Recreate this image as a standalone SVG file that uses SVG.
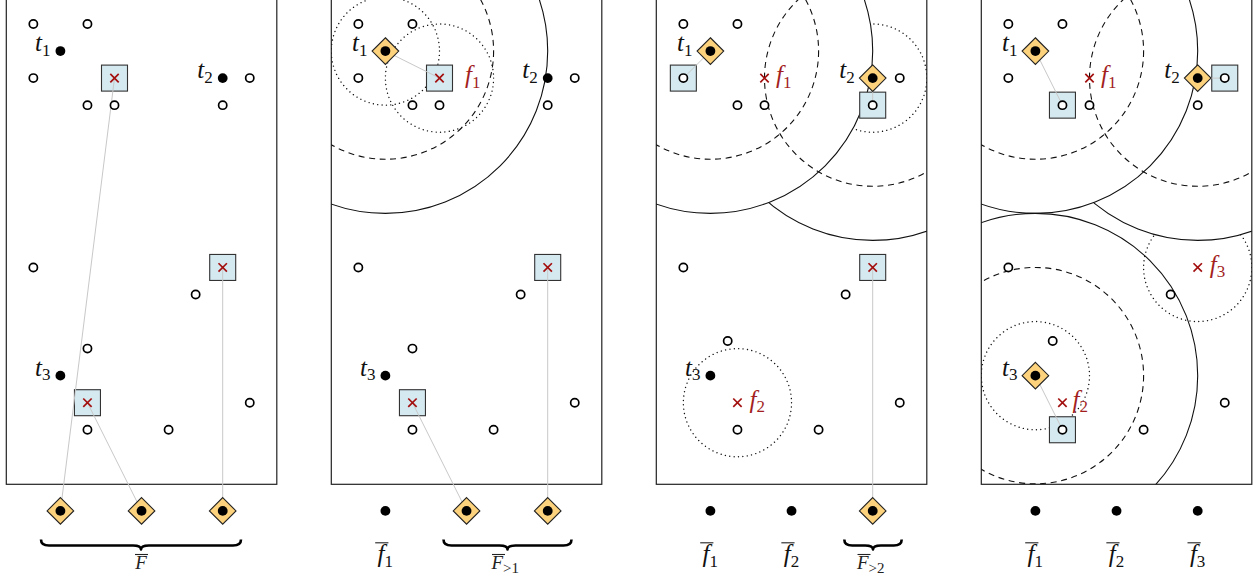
<svg xmlns="http://www.w3.org/2000/svg" width="1259" height="581" viewBox="0 0 1259 581">
<style>
.frame{fill:none;stroke:#222;stroke-width:1.2}
.cl{fill:#fff;stroke:#000;stroke-width:1.7}
.fd{fill:#000}
.fac{fill:#d5e9f0;stroke:#333;stroke-width:1.1}
.dia{fill:#fdd27d;stroke:#222;stroke-width:1.1}
.xm{stroke:#a31010;stroke-width:1.7;fill:none}
.lnk{stroke:#c8c8c8;stroke-width:1;fill:none}
.ball{fill:none;stroke:#111;stroke-width:1.1}
.dotted{stroke-dasharray:0.01 4.4;stroke-linecap:round;stroke-width:1.4}
.dashed{stroke-dasharray:6 4.6}
.lab{font-family:"Liberation Serif","Times New Roman",serif;font-style:italic;font-size:25px;fill:#111}
.red{fill:#a31f1f}
.sub{font-style:normal;font-size:17px}
.blab{font-family:"Liberation Serif","Times New Roman",serif;font-style:italic;font-size:19px;fill:#222}
.bsub{font-style:normal;font-size:15px}
.bar{stroke:#222;stroke-width:1.1}
.brace{fill:none;stroke:#000;stroke-width:2.6;stroke-linejoin:round}
</style>
<defs>
<circle id="oc" r="4.1" class="cl"/>
<circle id="fdot" r="4.9" class="fd"/>
<rect id="sq" x="-13" y="-13" width="26" height="26" class="fac"/>
<polygon id="dm" points="0,-13.3 13.3,0 0,13.3 -13.3,0" class="dia"/>
<path id="xx" d="M-4.2,-4.2L4.2,4.2M-4.2,4.2L4.2,-4.2" class="xm"/>
<clipPath id="frameClip"><rect x="6.3" y="-3" width="270.5" height="487.3"/></clipPath>
<clipPath id="outT1"><path clip-rule="evenodd" d="M-20,-20H300V520H-20Z M60.4,51.05m-162.3,0a162.3,162.3 0 1,0 324.6,0a162.3,162.3 0 1,0 -324.6,0Z"/></clipPath>
<clipPath id="outT2"><path clip-rule="evenodd" d="M-20,-20H300V520H-20Z M222.7,78.1m-162.3,0a162.3,162.3 0 1,0 324.6,0a162.3,162.3 0 1,0 -324.6,0Z"/></clipPath>
</defs>

<!-- ================= PANEL 1 ================= -->
<g id="panel1">
<rect class="frame" x="6.3" y="-3" width="270.5" height="487.3"/>
<g id="p1-facilities">
<g id="p1-fac-a"><use href="#sq" x="114.5" y="78.1"/></g>
<g id="p1-fac-b"><use href="#sq" x="222.7" y="267.45"/></g>
<g id="p1-fac-c"><use href="#sq" x="87.45" y="402.7"/></g>
</g>
<g id="p1-connectors">
<line class="lnk" x1="114.5" y1="78.1" x2="60.4" y2="510.9"/>
<line class="lnk" x1="87.45" y1="402.7" x2="141.55" y2="510.9"/>
<line class="lnk" x1="222.7" y1="267.45" x2="222.7" y2="510.9"/>
</g>
<g id="p1-marks">
<use href="#xx" x="114.5" y="78.1"/><use href="#xx" x="222.7" y="267.45"/><use href="#xx" x="87.45" y="402.7"/>
</g>
<g id="p1-clients">
<use href="#oc" x="33.35" y="24"/><use href="#oc" x="87.45" y="24"/>
<use href="#oc" x="33.35" y="78.1"/><use href="#oc" x="249.75" y="78.1"/>
<use href="#oc" x="87.45" y="105.15"/><use href="#oc" x="114.5" y="105.15"/><use href="#oc" x="222.7" y="105.15"/>
<use href="#oc" x="33.35" y="267.45"/><use href="#oc" x="195.65" y="294.5"/>
<use href="#oc" x="87.45" y="348.6"/><use href="#oc" x="249.75" y="402.7"/>
<use href="#oc" x="87.45" y="429.75"/><use href="#oc" x="168.6" y="429.75"/>
</g>
<g id="p1-t1"><use href="#fdot" x="60.4" y="51.05"/><text class="lab" x="50.4" y="51.05" text-anchor="end">t<tspan class="sub" dy="4.5">1</tspan></text></g>
<g id="p1-t2"><use href="#fdot" x="222.7" y="78.1"/><text class="lab" x="212.7" y="78.1" text-anchor="end">t<tspan class="sub" dy="4.5">2</tspan></text></g>
<g id="p1-t3"><use href="#fdot" x="60.4" y="375.65"/><text class="lab" x="50.4" y="375.65" text-anchor="end">t<tspan class="sub" dy="4.5">3</tspan></text></g>
<g id="p1-b1"><use href="#dm" x="60.4" y="510.9"/><use href="#fdot" x="60.4" y="510.9"/></g>
<g id="p1-b2"><use href="#dm" x="141.55" y="510.9"/><use href="#fdot" x="141.55" y="510.9"/></g>
<g id="p1-b3"><use href="#dm" x="222.7" y="510.9"/><use href="#fdot" x="222.7" y="510.9"/></g>
<g id="p1-brace">
<path class="brace" d="M41,539.5C41,543.5 43,545.5 49,545.5L133,545.5C138,545.5 141,546.5 141,549.5C141,546.5 144,545.5 149,545.5L233,545.5C239,545.5 241,543.5 241,539.5"/>
<line class="bar" x1="135" y1="554.5" x2="148" y2="554.5"/>
<text class="blab" x="141" y="569" text-anchor="middle">F</text>
</g>
</g>

<!-- ================= PANEL 2 ================= -->
<g id="panel2" transform="translate(325,0)">
<rect class="frame" x="6.3" y="-3" width="270.5" height="487.3"/>
<g id="p2-balls" clip-path="url(#frameClip)">
<circle class="ball dotted" cx="60.4" cy="51.05" r="54.1"/>
<circle class="ball dotted" cx="114.5" cy="78.1" r="54.1"/>
<circle class="ball dashed" cx="60.4" cy="51.05" r="108.2"/>
<circle class="ball" cx="60.4" cy="51.05" r="162.3"/>
</g>
<g id="p2-facilities">
<g id="p2-f1"><use href="#sq" x="114.5" y="78.1"/></g>
<g id="p2-fac-b"><use href="#sq" x="222.7" y="267.45"/></g>
<g id="p2-fac-c"><use href="#sq" x="87.45" y="402.7"/></g>
</g>
<g id="p2-connectors">
<line class="lnk" x1="60.4" y1="51.05" x2="114.5" y2="78.1"/>
<line class="lnk" x1="87.45" y1="402.7" x2="141.55" y2="510.9"/>
<line class="lnk" x1="222.7" y1="267.45" x2="222.7" y2="510.9"/>
</g>
<g id="p2-marks">
<use href="#xx" x="114.5" y="78.1"/><use href="#xx" x="222.7" y="267.45"/><use href="#xx" x="87.45" y="402.7"/>
<text class="lab red" x="140" y="83.1">f<tspan class="sub" dy="4.5">1</tspan></text>
</g>
<g id="p2-clients">
<use href="#oc" x="33.35" y="24"/><use href="#oc" x="87.45" y="24"/>
<use href="#oc" x="33.35" y="78.1"/><use href="#oc" x="249.75" y="78.1"/>
<use href="#oc" x="87.45" y="105.15"/><use href="#oc" x="114.5" y="105.15"/><use href="#oc" x="222.7" y="105.15"/>
<use href="#oc" x="33.35" y="267.45"/><use href="#oc" x="195.65" y="294.5"/>
<use href="#oc" x="87.45" y="348.6"/><use href="#oc" x="249.75" y="402.7"/>
<use href="#oc" x="87.45" y="429.75"/><use href="#oc" x="168.6" y="429.75"/>
</g>
<g id="p2-t1"><use href="#dm" x="60.4" y="51.05"/><use href="#fdot" x="60.4" y="51.05"/><text class="lab" x="42.4" y="51.05" text-anchor="end">t<tspan class="sub" dy="4.5">1</tspan></text></g>
<g id="p2-t2"><use href="#fdot" x="222.7" y="78.1"/><text class="lab" x="212.7" y="78.1" text-anchor="end">t<tspan class="sub" dy="4.5">2</tspan></text></g>
<g id="p2-t3"><use href="#fdot" x="60.4" y="375.65"/><text class="lab" x="50.4" y="375.65" text-anchor="end">t<tspan class="sub" dy="4.5">3</tspan></text></g>
<g id="p2-b1"><use href="#fdot" x="60.4" y="510.9"/><line class="bar" x1="50.2" y1="542.8" x2="63.4" y2="542.8"/><text class="lab" x="52.6" y="562">f<tspan class="sub" dy="5">1</tspan></text></g>
<g id="p2-b2"><use href="#dm" x="141.55" y="510.9"/><use href="#fdot" x="141.55" y="510.9"/></g>
<g id="p2-b3"><use href="#dm" x="222.7" y="510.9"/><use href="#fdot" x="222.7" y="510.9"/></g>
<g id="p2-brace">
<path class="brace" d="M118.5,539.5C118.5,543.5 120.5,545.5 126.5,545.5L174.5,545.5C179.5,545.5 182.5,546.5 182.5,549.5C182.5,546.5 185.5,545.5 190.5,545.5L238.5,545.5C244.5,545.5 246.5,543.5 246.5,539.5"/>
<line class="bar" x1="167" y1="554.5" x2="180" y2="554.5"/>
<text class="blab" x="166.5" y="569">F<tspan class="bsub" dy="3.5">&gt;1</tspan></text>
</g>
</g>

<!-- ================= PANEL 3 ================= -->
<g id="panel3" transform="translate(650,0)">
<rect class="frame" x="6.3" y="-3" width="270.5" height="487.3"/>
<g id="p3-balls" clip-path="url(#frameClip)">
<circle class="ball dashed" cx="60.4" cy="51.05" r="108.2"/>
<circle class="ball" cx="60.4" cy="51.05" r="162.3"/>
<circle class="ball dashed" cx="222.7" cy="78.1" r="108.2"/>
<circle class="ball dotted" cx="87.45" cy="402.7" r="54.1"/>
<g clip-path="url(#outT1)">
<circle class="ball" cx="222.7" cy="78.1" r="162.3"/>
<circle class="ball dotted" cx="222.7" cy="78.1" r="54.1"/>
</g>
</g>
<g id="p3-facilities">
<g id="p3-fac-a"><use href="#sq" x="33.35" y="78.1"/></g>
<g id="p3-fac-b"><use href="#sq" x="222.7" y="105.15"/></g>
<g id="p3-fac-c"><use href="#sq" x="222.7" y="267.45"/></g>
</g>
<g id="p3-connectors">
<line class="lnk" x1="60.4" y1="51.05" x2="33.35" y2="78.1"/>
<line class="lnk" x1="222.7" y1="78.1" x2="222.7" y2="105.15"/>
<line class="lnk" x1="222.7" y1="267.45" x2="222.7" y2="510.9"/>
</g>
<g id="p3-marks">
<use href="#xx" x="222.7" y="267.45"/>
<g id="p3-f1"><use href="#xx" x="114.5" y="78.1"/><text class="lab red" x="126" y="83.1">f<tspan class="sub" dy="4.5">1</tspan></text></g>
<g id="p3-f2"><use href="#xx" x="87.45" y="402.7"/><text class="lab red" x="99.5" y="407.7">f<tspan class="sub" dy="4.5">2</tspan></text></g>
</g>
<g id="p3-clients">
<use href="#oc" x="33.35" y="24"/><use href="#oc" x="87.45" y="24"/>
<use href="#oc" x="33.35" y="78.1"/><use href="#oc" x="249.75" y="78.1"/>
<use href="#oc" x="87.45" y="105.15"/><use href="#oc" x="114.5" y="105.15"/><use href="#oc" x="222.7" y="105.15"/>
<use href="#oc" x="33.35" y="267.45"/><use href="#oc" x="195.65" y="294.5"/>
<use href="#oc" x="77.7" y="341"/><use href="#oc" x="249.75" y="402.7"/>
<use href="#oc" x="87.45" y="429.75"/><use href="#oc" x="168.6" y="429.75"/>
</g>
<g id="p3-t1"><use href="#dm" x="60.4" y="51.05"/><use href="#fdot" x="60.4" y="51.05"/><text class="lab" x="42.4" y="51.05" text-anchor="end">t<tspan class="sub" dy="4.5">1</tspan></text></g>
<g id="p3-t2"><use href="#dm" x="222.7" y="78.1"/><use href="#fdot" x="222.7" y="78.1"/><text class="lab" x="204.7" y="78.1" text-anchor="end">t<tspan class="sub" dy="4.5">2</tspan></text></g>
<g id="p3-t3"><use href="#fdot" x="60.4" y="375.65"/><text class="lab" x="50.4" y="375.65" text-anchor="end">t<tspan class="sub" dy="4.5">3</tspan></text></g>
<g id="p3-b1"><use href="#fdot" x="60.4" y="510.9"/><line class="bar" x1="50.2" y1="542.8" x2="63.4" y2="542.8"/><text class="lab" x="52.6" y="562">f<tspan class="sub" dy="5">1</tspan></text></g>
<g id="p3-b2"><use href="#fdot" x="141.55" y="510.9"/><line class="bar" x1="131.35" y1="542.8" x2="144.55" y2="542.8"/><text class="lab" x="133.75" y="562">f<tspan class="sub" dy="5">2</tspan></text></g>
<g id="p3-b3"><use href="#dm" x="222.7" y="510.9"/><use href="#fdot" x="222.7" y="510.9"/></g>
<g id="p3-brace">
<path class="brace" d="M194.3,539.5C194.3,543.5 196.3,545.5 202.3,545.5L215,545.5C220,545.5 223,546.5 223,549.5C223,546.5 226,545.5 231,545.5L243.7,545.5C249.7,545.5 251.7,543.5 251.7,539.5"/>
<line class="bar" x1="207.5" y1="554.5" x2="220.5" y2="554.5"/>
<text class="blab" x="207" y="569">F<tspan class="bsub" dy="3.5">&gt;2</tspan></text>
</g>
</g>

<!-- ================= PANEL 4 ================= -->
<g id="panel4" transform="translate(975,0)">
<rect class="frame" x="6.3" y="-3" width="270.5" height="487.3"/>
<g id="p4-balls" clip-path="url(#frameClip)">
<circle class="ball dashed" cx="60.4" cy="51.05" r="108.2"/>
<circle class="ball" cx="60.4" cy="51.05" r="162.3"/>
<circle class="ball dashed" cx="222.7" cy="78.1" r="108.2"/>
<circle class="ball" cx="60.4" cy="375.65" r="162.3"/>
<circle class="ball dashed" cx="60.4" cy="375.65" r="108.2"/>
<circle class="ball dotted" cx="60.4" cy="375.65" r="54.1"/>
<g clip-path="url(#outT1)"><circle class="ball" cx="222.7" cy="78.1" r="162.3"/></g>
<g clip-path="url(#outT2)"><circle class="ball dotted" cx="222.7" cy="267.45" r="54.1"/></g>
</g>
<g id="p4-facilities">
<g id="p4-fac-a"><use href="#sq" x="87.45" y="105.15"/></g>
<g id="p4-fac-b"><use href="#sq" x="249.75" y="78.1"/></g>
<g id="p4-fac-c"><use href="#sq" x="87.45" y="429.75"/></g>
</g>
<g id="p4-connectors">
<line class="lnk" x1="60.4" y1="51.05" x2="87.45" y2="105.15"/>
<line class="lnk" x1="222.7" y1="78.1" x2="249.75" y2="78.1"/>
<line class="lnk" x1="60.4" y1="375.65" x2="87.45" y2="429.75"/>
</g>
<g id="p4-marks">
<g id="p4-f1"><use href="#xx" x="114.5" y="78.1"/><text class="lab red" x="126" y="83.1">f<tspan class="sub" dy="4.5">1</tspan></text></g>
<g id="p4-f2"><use href="#xx" x="87.45" y="402.7"/><text class="lab red" x="97.5" y="407.7">f<tspan class="sub" dy="4.5">2</tspan></text></g>
<g id="p4-f3"><use href="#xx" x="222.7" y="267.45"/><text class="lab red" x="234.7" y="272.5">f<tspan class="sub" dy="4.5">3</tspan></text></g>
</g>
<g id="p4-clients">
<use href="#oc" x="33.35" y="24"/><use href="#oc" x="87.45" y="24"/>
<use href="#oc" x="33.35" y="78.1"/><use href="#oc" x="249.75" y="78.1"/>
<use href="#oc" x="87.45" y="105.15"/><use href="#oc" x="114.5" y="105.15"/><use href="#oc" x="222.7" y="105.15"/>
<use href="#oc" x="33.35" y="267.45"/><use href="#oc" x="195.65" y="294.5"/>
<use href="#oc" x="77.7" y="341"/><use href="#oc" x="249.75" y="402.7"/>
<use href="#oc" x="87.45" y="429.75"/><use href="#oc" x="168.6" y="429.75"/>
</g>
<g id="p4-t1"><use href="#dm" x="60.4" y="51.05"/><use href="#fdot" x="60.4" y="51.05"/><text class="lab" x="42.4" y="51.05" text-anchor="end">t<tspan class="sub" dy="4.5">1</tspan></text></g>
<g id="p4-t2"><use href="#dm" x="222.7" y="78.1"/><use href="#fdot" x="222.7" y="78.1"/><text class="lab" x="204.7" y="78.1" text-anchor="end">t<tspan class="sub" dy="4.5">2</tspan></text></g>
<g id="p4-t3"><use href="#dm" x="60.4" y="375.65"/><use href="#fdot" x="60.4" y="375.65"/><text class="lab" x="42.4" y="375.65" text-anchor="end">t<tspan class="sub" dy="4.5">3</tspan></text></g>
<g id="p4-b1"><use href="#fdot" x="60.4" y="510.9"/><line class="bar" x1="50.2" y1="542.8" x2="63.4" y2="542.8"/><text class="lab" x="52.6" y="562">f<tspan class="sub" dy="5">1</tspan></text></g>
<g id="p4-b2"><use href="#fdot" x="141.55" y="510.9"/><line class="bar" x1="131.35" y1="542.8" x2="144.55" y2="542.8"/><text class="lab" x="133.75" y="562">f<tspan class="sub" dy="5">2</tspan></text></g>
<g id="p4-b3"><use href="#fdot" x="222.7" y="510.9"/><line class="bar" x1="212.5" y1="542.8" x2="225.7" y2="542.8"/><text class="lab" x="214.9" y="562">f<tspan class="sub" dy="5">3</tspan></text></g>
</g>
</svg>
